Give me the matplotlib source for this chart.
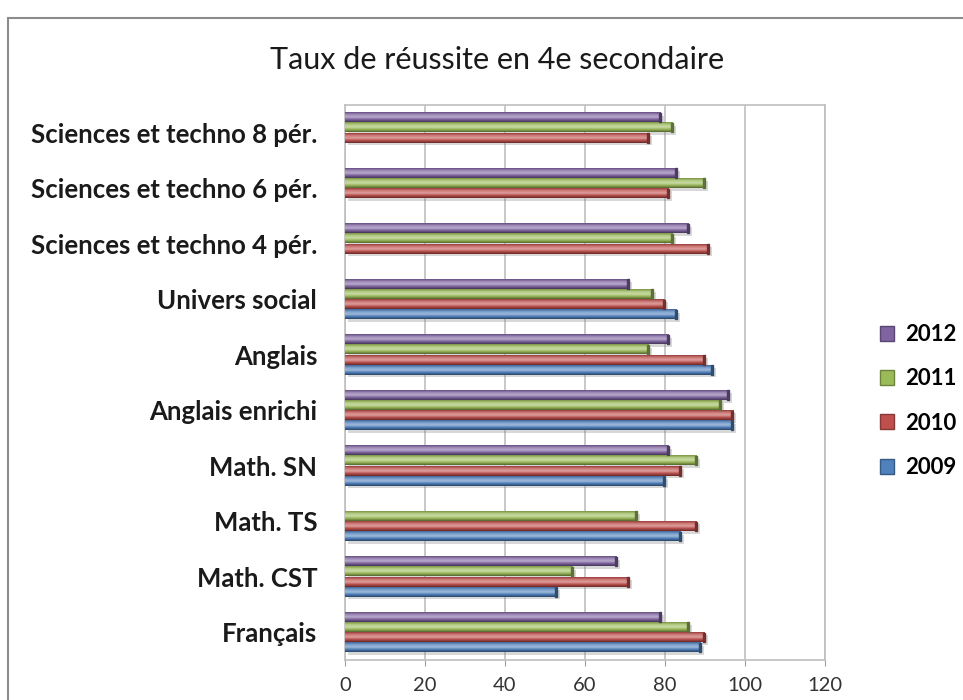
import numpy as np
import matplotlib
matplotlib.use("Agg")
import matplotlib.pyplot as plt
from matplotlib.colors import LinearSegmentedColormap, to_rgb
from matplotlib.patches import Patch, Rectangle
from matplotlib import patheffects as pe

plt.rcParams["font.family"] = ["Lato", "DejaVu Sans"]

TITLE = "Taux de réussite en 4e secondaire"

# categories listed bottom -> top as drawn
categories = ["Français", "Math. CST", "Math. TS", "Math. SN", "Anglais enrichi",
              "Anglais", "Univers social", "Sciences et techno 4 pér.",
              "Sciences et techno 6 pér.", "Sciences et techno 8 pér."]
years = ["2009", "2010", "2011", "2012"]

# None = no bar for that year
v2009 = [89, 53, 84, 80, 97, 92, 83, None, None, None]
v2010 = [90, 71, 88, 84, 97, 90, 80, 91, 81, 76]
v2011 = [86, 57, 73, 88, 94, 76, 77, 82, 90, 82]
v2012 = [79, 68, None, 81, 96, 81, 71, 86, 83, 79]

colors = ["#4F81BD", "#C0504D", "#9BBB59", "#8064A2"]
xticks = [0, 20, 40, 60, 80, 100, 120]


def shade(c, f):
    r = np.array(to_rgb(c))
    if f >= 0:
        return tuple(r + (1 - r) * f)
    return tuple(r * (1 + f))


fig = plt.figure(figsize=(9.63, 7.0), dpi=100)
# outer chart border (cut off at right/bottom)
fig.patches.append(Rectangle((8 / 963, -0.1), 1.2, 1 - 18 / 700 + 0.1,
                             transform=fig.transFigure, fill=False,
                             edgecolor="#8c8c8c", lw=1.5))

ax = fig.add_axes([345 / 963, 1 - 660 / 700, 480 / 963, 555 / 700])

pitch = 0.183
bh = 0.17
series = [v2009, v2010, v2011, v2012]
y = np.arange(len(categories))
for k, (vals, col) in enumerate(zip(series, colors)):
    off = (k - 1.5) * pitch
    cmap = LinearSegmentedColormap.from_list(
        "g", [shade(col, -0.45), shade(col, -0.05), shade(col, 0.45),
              shade(col, 0.25), shade(col, -0.2)])
    grad = np.linspace(0, 1, 32).reshape(-1, 1)
    for i, v in enumerate(vals):
        if v is None:
            continue
        yc = y[i] + off
        ax.barh(yc, v, height=bh, color=col, zorder=3,
                path_effects=[pe.SimplePatchShadow(offset=(2, -2),
                                                   shadow_rgbFace="#808080",
                                                   alpha=0.3),
                              pe.Normal()])
        ax.imshow(grad, cmap=cmap, aspect="auto", origin="lower",
                  extent=(0, v, yc - bh / 2, yc + bh / 2), zorder=4)
        ax.add_patch(Rectangle((v - 0.6, yc - bh / 2), 0.6, bh,
                               color=shade(col, -0.4), zorder=5))

ax.set_xlim(0, 120)
ax.set_ylim(-0.5, len(categories) - 0.5)
ax.set_xticks(xticks)
ax.set_yticks(y)
ax.set_yticklabels(categories, fontsize=18.5, fontweight="bold", color="#1a1a1a")
ax.tick_params(axis="x", labelsize=14.5, colors="#333333", length=4, color="#a0a0a0", pad=8)
ax.tick_params(axis="y", length=0, pad=20)
ax.grid(axis="x", color="#bfbfbf", lw=1.2, zorder=0)
ax.set_axisbelow(True)
for s in ax.spines.values():
    s.set_color("#bfbfbf")
    s.set_linewidth(1.2)

fig.text(497 / 963, 1 - 60 / 700, TITLE, ha="center", va="center", fontsize=22,
         color="#1a1a1a")

handles = [Patch(facecolor=colors[k], edgecolor=shade(colors[k], -0.3), label=years[k])
           for k in range(3, -1, -1)]
fig.legend(handles=handles, loc="center left", bbox_to_anchor=(880 / 963, 1 - 401 / 700),
           frameon=False, prop={"weight": "bold", "size": 16},
           handlelength=0.65, handleheight=0.65, handletextpad=0.5,
           labelspacing=1.05, borderpad=0, borderaxespad=0)

fig.savefig("out.png", dpi=100)
